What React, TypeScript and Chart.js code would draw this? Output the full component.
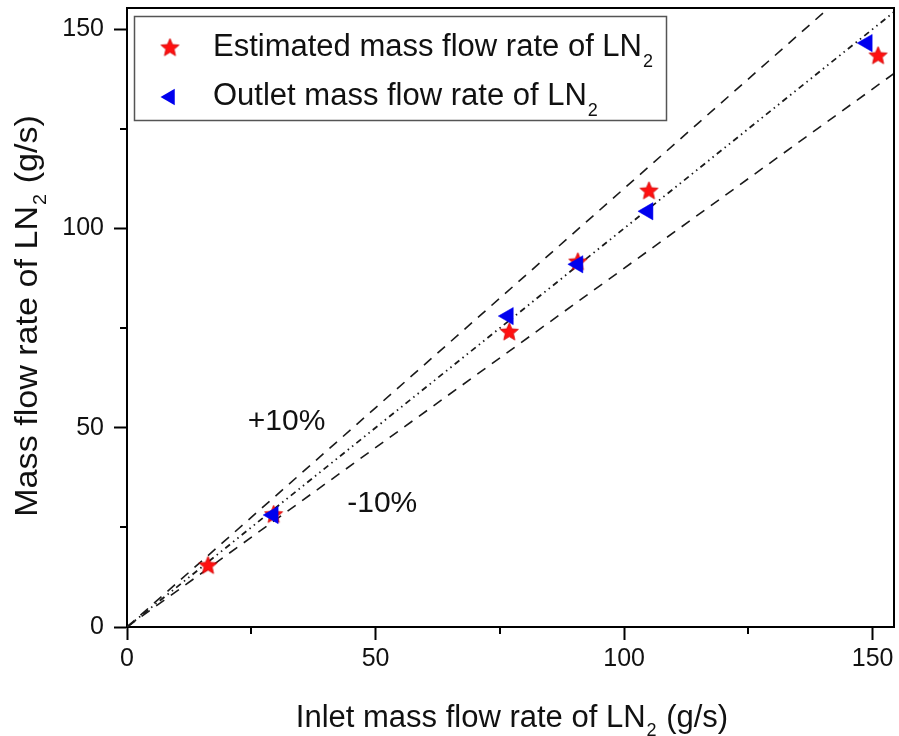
import React, { useEffect, useRef } from 'react';
import { Chart, registerables } from 'chart.js';

Chart.register(...registerables);

// ---- data ----
const estimatedX = [16.3, 29.5, 76.9, 90.7, 105.0, 151.1];
const estimatedY = [15.6, 28.4, 74.2, 91.8, 109.6, 143.5];
const outletX = [29.4, 76.7, 90.7, 104.8, 148.9];
const outletY = [28.1, 78.0, 91.0, 104.3, 146.5];

const refLineX = [0, 160];
const plus10Y = [0, 176];
const parityY = [0, 160];
const minus10Y = [0, 144];

const majorTicks = [0, 50, 100, 150];
const minorTicks = [25, 75, 125];
const xRange = [0, 154.3];
const yRange = [0, 155.3];

const legendLabels = ['Estimated mass flow rate of LN', 'Outlet mass flow rate of LN'];
const subscript = '2';
const xTitle = ['Inlet mass flow rate of LN', ' (g/s)'];
const yTitle = ['Mass flow rate of LN', ' (g/s)'];
const annotationTexts = ['+10%', '-10%'];
const annotationX = [24.3, 44.3];
const annotationY = [49.4, 28.8];

const FONT = '"Liberation Sans", Arial, Helvetica, sans-serif';
const RED = '#ff1010';
const BLUE = '#0000ee';
const LINE = '#1a1a1a';

function pts(xs: number[], ys: number[]) {
  return xs.map((x, i) => ({ x, y: ys[i] }));
}

function makeStar(r: number): HTMLCanvasElement {
  const size = Math.ceil(r * 2 + 4);
  const c = document.createElement('canvas');
  c.width = size;
  c.height = size;
  const ctx = c.getContext('2d')!;
  const cx = size / 2;
  const cy = size / 2 + 1;
  ctx.beginPath();
  for (let i = 0; i < 10; i++) {
    const rad = i % 2 === 0 ? r : r * 0.45;
    const a = -Math.PI / 2 + (i * Math.PI) / 5;
    ctx.lineTo(cx + rad * Math.cos(a), cy + rad * Math.sin(a));
  }
  ctx.closePath();
  ctx.fillStyle = RED;
  ctx.fill();
  ctx.strokeStyle = '#d00000';
  ctx.lineWidth = 0.8;
  ctx.stroke();
  return c;
}

function drawWithSub(
  ctx: CanvasRenderingContext2D,
  main: string,
  rest: string,
  x: number,
  y: number,
  size: number,
  subSize: number,
  subDrop: number,
  align: 'left' | 'center'
) {
  ctx.font = `${size}px ${FONT}`;
  const wMain = ctx.measureText(main).width;
  const wRest = ctx.measureText(rest).width;
  ctx.font = `${subSize}px ${FONT}`;
  const wSub = ctx.measureText(subscript).width + 1;
  const total = wMain + wSub + wRest;
  let sx = align === 'center' ? x - total / 2 : x;
  ctx.textAlign = 'left';
  ctx.textBaseline = 'alphabetic';
  ctx.font = `${size}px ${FONT}`;
  ctx.fillText(main, sx, y);
  sx += wMain + 1;
  ctx.font = `${subSize}px ${FONT}`;
  ctx.fillText(subscript, sx, y + subDrop);
  sx += wSub;
  if (rest) {
    ctx.font = `${size}px ${FONT}`;
    ctx.fillText(rest, sx, y);
  }
}

export default function App() {
  const canvasRef = useRef<HTMLCanvasElement>(null);

  useEffect(() => {
    const star = makeStar(9.5);

    const decor = {
      id: 'decor',
      afterDraw(chart: any) {
        const ctx: CanvasRenderingContext2D = chart.ctx;
        const { left, right, top, bottom } = chart.chartArea;
        const xs = chart.scales.x;
        const ys = chart.scales.y;
        ctx.save();

        // frame (top/right)
        ctx.strokeStyle = '#000';
        ctx.lineWidth = 2;
        ctx.beginPath();
        ctx.moveTo(left - 1, top);
        ctx.lineTo(right, top);
        ctx.lineTo(right, bottom + 1);
        ctx.stroke();

        // minor ticks
        ctx.beginPath();
        minorTicks.forEach((v) => {
          const px = Math.round(xs.getPixelForValue(v));
          ctx.moveTo(px, bottom);
          ctx.lineTo(px, bottom + 7);
          const py = Math.round(ys.getPixelForValue(v));
          ctx.moveTo(left, py);
          ctx.lineTo(left - 7, py);
        });
        ctx.stroke();

        // legend
        ctx.fillStyle = '#fff';
        ctx.fillRect(134.5, 16.5, 532, 104);
        ctx.strokeStyle = '#555';
        ctx.lineWidth = 1.5;
        ctx.strokeRect(134.5, 16.5, 532, 104);
        ctx.drawImage(star, 170 - star.width / 2, 47 - star.height / 2);
        ctx.fillStyle = BLUE;
        ctx.beginPath();
        const tr = 9.5;
        const tx = 170;
        const ty = 97;
        ctx.moveTo(tx - tr, ty);
        ctx.lineTo(tx + tr / 2, ty - (tr * Math.sqrt(3)) / 2);
        ctx.lineTo(tx + tr / 2, ty + (tr * Math.sqrt(3)) / 2);
        ctx.closePath();
        ctx.fill();

        ctx.fillStyle = '#111';
        drawWithSub(ctx, legendLabels[0], '', 213, 56, 31, 18, 11, 'left');
        drawWithSub(ctx, legendLabels[1], '', 213, 105, 31, 18, 11, 'left');

        // annotations
        ctx.font = `30px ${FONT}`;
        ctx.textAlign = 'left';
        ctx.textBaseline = 'alphabetic';
        annotationTexts.forEach((t, i) => {
          ctx.fillText(t, xs.getPixelForValue(annotationX[i]), ys.getPixelForValue(annotationY[i]));
        });

        // x title
        drawWithSub(ctx, xTitle[0], xTitle[1], (left + right) / 2 + 1, 727, 31, 18, 9, 'center');

        // y title
        ctx.save();
        ctx.translate(37, (top + bottom) / 2 - 1);
        ctx.rotate(-Math.PI / 2);
        ctx.scale(1.1, 1);
        drawWithSub(ctx, yTitle[0], yTitle[1], 0, 0, 31, 18, 9, 'center');
        ctx.restore();

        ctx.restore();
      },
    };

    const tickFont = { family: FONT, size: 25 };

    const chart = new Chart(canvasRef.current!, {
      type: 'scatter',
      data: {
        datasets: [
          {
            label: 'Outlet mass flow rate of LN2',
            data: pts(outletX, outletY),
            pointStyle: 'triangle',
            rotation: -90,
            pointRadius: 10,
            pointHoverRadius: 10,
            backgroundColor: BLUE,
            borderColor: BLUE,
            borderWidth: 0.5,
            order: 0,
          },
          {
            label: 'Estimated mass flow rate of LN2',
            data: pts(estimatedX, estimatedY),
            pointStyle: star,
            pointRadius: 10,
            backgroundColor: RED,
            borderColor: RED,
            order: 1,
          },
          {
            type: 'line',
            label: '+10%',
            data: pts(refLineX, plus10Y),
            borderColor: LINE,
            borderWidth: 1.6,
            borderDash: [10, 8],
            pointRadius: 0,
            fill: false,
            order: 2,
          },
          {
            type: 'line',
            label: 'parity',
            data: pts(refLineX, parityY),
            borderColor: LINE,
            borderWidth: 1.8,
            borderDash: [6, 4, 1.5, 4, 1.5, 4],
            pointRadius: 0,
            fill: false,
            order: 3,
          },
          {
            type: 'line',
            label: '-10%',
            data: pts(refLineX, minus10Y),
            borderColor: LINE,
            borderWidth: 1.6,
            borderDash: [10, 8],
            pointRadius: 0,
            fill: false,
            order: 4,
          },
        ] as any,
      },
      options: {
        responsive: false,
        animation: false,
        events: [],
        layout: { autoPadding: false, padding: { top: 8, right: 5, left: 0, bottom: 0 } },
        plugins: {
          legend: { display: false },
          tooltip: { enabled: false },
        },
        scales: {
          x: {
            type: 'linear',
            min: xRange[0],
            max: xRange[1],
            afterFit: (s: any) => {
              s.height = 109;
              s.paddingLeft = 0;
              s.paddingRight = 0;
            },
            afterBuildTicks: (s: any) => {
              s.ticks = majorTicks.map((v) => ({ value: v }));
            },
            ticks: { font: tickFont, color: '#111', padding: 4, maxRotation: 0, autoSkip: false },
            grid: {
              display: true,
              drawOnChartArea: false,
              drawTicks: true,
              tickLength: 13,
              tickWidth: 2,
              tickColor: '#000',
            },
            border: { display: true, color: '#000', width: 2 },
          },
          y: {
            type: 'linear',
            min: yRange[0],
            max: yRange[1],
            afterFit: (s: any) => {
              s.width = 127;
              s.paddingTop = 0;
              s.paddingBottom = 0;
            },
            afterBuildTicks: (s: any) => {
              s.ticks = majorTicks.map((v) => ({ value: v }));
            },
            ticks: { font: tickFont, color: '#111', padding: 10, autoSkip: false },
            grid: {
              display: true,
              drawOnChartArea: false,
              drawTicks: true,
              tickLength: 13,
              tickWidth: 2,
              tickColor: '#000',
            },
            border: { display: true, color: '#000', width: 2 },
          },
        },
      } as any,
      plugins: [decor],
    });

    return () => chart.destroy();
  }, []);

  return (
    <div style={{ position: 'absolute', left: 0, top: 0, width: 899, height: 736, background: '#fff' }}>
      <canvas ref={canvasRef} width={899} height={736} style={{ display: 'block', width: 899, height: 736 }} />
    </div>
  );
}
